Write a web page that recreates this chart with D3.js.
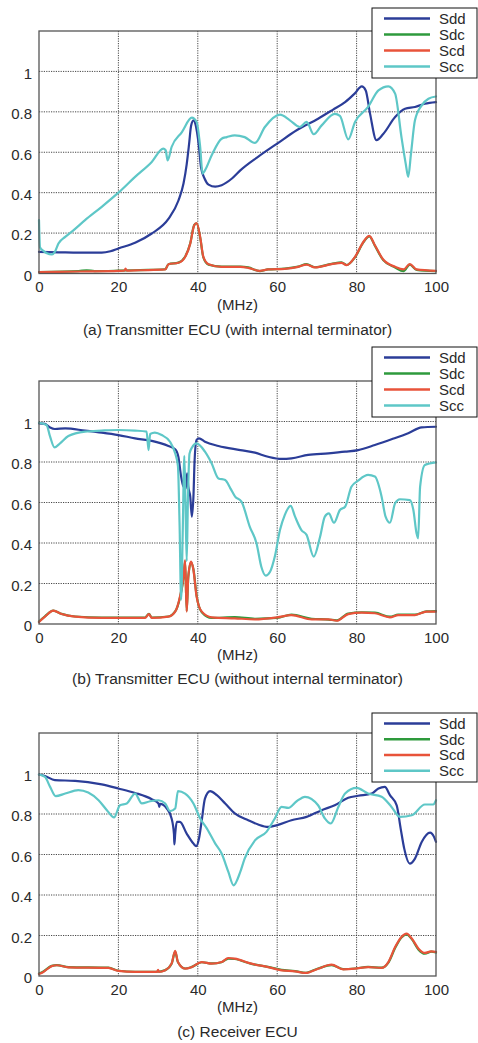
<!DOCTYPE html>
<html><head><meta charset="utf-8">
<script src="https://cdn.jsdelivr.net/npm/d3@7/dist/d3.min.js"></script>
<style>body{margin:0;background:#fff}svg{display:block}</style>
</head><body>
<script>
const seriesNames = ["Sdd","Sdc","Scd","Scc"];
const seriesColors = ["#2b3d98","#2e9a3c","#e8533a","#5ec7c7"];
const xTicks = [0,20,40,60,80,100];
const yTicks = [0,0.2,0.4,0.6,0.8,1];
const yTickLabels = ["0","0.2","0.4","0.6","0.8","1"];
const captions = ["(a) Transmitter ECU (with internal terminator)","(b) Transmitter ECU (without internal terminator)","(c) Receiver ECU"];
const xUnit = "(MHz)";

const a_Sdd = [[0,0.107],[5,0.105],[10,0.103],[15.8,0.103],[18,0.11],[20,0.124],[24.2,0.152],[28.4,0.198],[32.6,0.27],[35.1,0.36],[36.4,0.445],[37.2,0.54],[37.8,0.64],[38.3,0.73],[38.9,0.758],[39.4,0.74],[39.8,0.70],[40.3,0.626],[40.8,0.527],[41.7,0.47],[42.7,0.44],[44.4,0.43],[46,0.437],[48.6,0.47],[50.7,0.51],[55,0.575],[60,0.643],[65,0.71],[70.3,0.766],[74,0.81],[77.1,0.848],[79.5,0.89],[81.3,0.926],[82.3,0.906],[83.4,0.79],[85,0.66],[86.7,0.69],[89.7,0.774],[92.2,0.815],[94.7,0.824],[97.2,0.84],[100,0.848]];
const a_Sdc = [[0,0.007],[10,0.012],[12,0.016],[14,0.012],[20,0.014],[25.5,0.017],[31.8,0.021],[32.6,0.046],[35.1,0.054],[36.8,0.083],[38.1,0.15],[39.1,0.24],[39.7,0.248],[40.6,0.178],[41.4,0.08],[42.7,0.044],[46,0.034],[50.7,0.034],[52.7,0.03],[55.6,0.012],[57.7,0.02],[61.9,0.024],[65.3,0.034],[67.4,0.046],[69.5,0.031],[73.7,0.048],[76.2,0.055],[77.5,0.042],[79.6,0.08],[81.7,0.154],[83.2,0.184],[84.6,0.138],[86.7,0.066],[89.7,0.03],[91.8,0.012],[93.4,0.044],[95.1,0.018],[100,0.012]];
const a_Scd = [[0,0.007],[10,0.01],[20,0.013],[21.5,0.014],[21.8,0.024],[22.1,0.014],[25.5,0.016],[31.8,0.02],[32.6,0.046],[35.1,0.053],[36.8,0.082],[38.1,0.148],[39.1,0.239],[39.7,0.25],[40.6,0.18],[41.4,0.082],[42.7,0.046],[46,0.033],[50.7,0.033],[52.7,0.028],[55.6,0.013],[57.7,0.02],[61.9,0.023],[65.3,0.033],[67.4,0.044],[69.5,0.03],[73.7,0.046],[76.2,0.053],[77.5,0.041],[79.6,0.082],[81.7,0.156],[83.2,0.186],[84.6,0.14],[86.7,0.069],[89.7,0.033],[91.8,0.02],[93.4,0.046],[95.1,0.02],[100,0.013]];
const a_Scc = [[0,0.264],[0.25,0.13],[1.1,0.112],[2,0.10],[3.2,0.094],[4,0.107],[4.9,0.148],[6.6,0.181],[8.2,0.206],[11.6,0.264],[15.8,0.33],[20,0.40],[24.2,0.478],[28.4,0.552],[31.3,0.618],[31.9,0.61],[32.4,0.56],[33.4,0.626],[36,0.70],[38.5,0.771],[39.7,0.75],[40.6,0.626],[41.2,0.494],[41.8,0.51],[43.5,0.585],[46,0.667],[47.3,0.675],[49.3,0.684],[51.8,0.675],[54.4,0.646],[56.9,0.725],[60.7,0.786],[63.2,0.758],[65.7,0.725],[67.4,0.75],[69.2,0.689],[71.2,0.733],[74.5,0.79],[75.8,0.78],[77.9,0.664],[79.6,0.75],[82.9,0.824],[85.5,0.906],[88,0.926],[89.7,0.89],[91.3,0.675],[92.4,0.54],[93,0.478],[93.7,0.593],[94.7,0.758],[96.4,0.832],[98.1,0.865],[100,0.876]];

const b_Sdd = [[0,0.991],[1.5,0.988],[2.8,0.97],[4,0.963],[6.6,0.966],[11.6,0.955],[15.8,0.945],[20,0.933],[24.2,0.917],[28.4,0.904],[32.6,0.879],[34.3,0.863],[35.1,0.826],[35.8,0.728],[36.4,0.678],[37,0.67],[37.3,0.744],[37.6,0.678],[38.1,0.629],[38.5,0.53],[38.9,0.629],[39.2,0.81],[39.7,0.909],[40.3,0.917],[41.8,0.90],[45.2,0.879],[50.7,0.859],[54.4,0.846],[57.7,0.826],[61.1,0.815],[63.6,0.818],[67.8,0.835],[72.9,0.843],[77.1,0.851],[80.4,0.859],[84.6,0.884],[88.8,0.912],[93,0.942],[96.4,0.971],[100,0.974]];
const b_Sdc = [[0,0.012],[1.5,0.038],[3.6,0.066],[5.7,0.05],[9.1,0.037],[15.8,0.032],[26.7,0.032],[27.7,0.05],[28.4,0.032],[32.6,0.037],[34.3,0.062],[35.5,0.13],[36.4,0.23],[36.8,0.31],[37.2,0.065],[37.6,0.23],[38.3,0.305],[38.9,0.27],[39.7,0.14],[41,0.058],[43.5,0.03],[49.3,0.034],[54.4,0.026],[60,0.03],[63.6,0.046],[68.7,0.026],[72.9,0.022],[75,0.018],[77.9,0.052],[81.3,0.058],[84.6,0.056],[88.4,0.036],[90.5,0.046],[94.7,0.046],[97.6,0.062],[100,0.064]];
const b_Scd = [[0,0.01],[1.5,0.036],[3.6,0.066],[5.7,0.049],[9.1,0.036],[15.8,0.03],[26.7,0.03],[27.7,0.049],[28.4,0.03],[32.6,0.036],[34.3,0.061],[35.5,0.135],[36.4,0.234],[36.8,0.316],[37.2,0.061],[37.6,0.234],[38.3,0.308],[38.9,0.267],[39.7,0.135],[41,0.061],[43.5,0.033],[49.3,0.028],[54.4,0.023],[60,0.033],[63.6,0.044],[68.7,0.023],[72.9,0.023],[75,0.016],[77.9,0.049],[81.3,0.056],[84.6,0.053],[88.4,0.033],[90.5,0.044],[94.7,0.044],[97.6,0.061],[100,0.061]];
const b_Scc = [[0,0.994],[1.9,0.983],[2.8,0.925],[3.9,0.872],[5.3,0.892],[7.4,0.928],[11.6,0.95],[15.8,0.955],[20,0.958],[24.2,0.955],[27.1,0.95],[27.6,0.859],[28,0.938],[29.2,0.945],[30.9,0.933],[33,0.9],[34.3,0.843],[35,0.78],[35.4,0.5],[35.8,0.12],[36.2,0.45],[36.6,0.83],[36.9,0.6],[37.2,0.31],[37.5,0.6],[37.9,0.84],[38.5,0.87],[39.7,0.892],[41.8,0.851],[43.5,0.793],[45.2,0.719],[46.9,0.711],[48.2,0.67],[49.4,0.629],[51,0.604],[53.1,0.48],[54.8,0.398],[56,0.283],[57.1,0.239],[58.2,0.258],[59.4,0.333],[60.7,0.464],[61.9,0.538],[63.4,0.583],[64.5,0.53],[66.1,0.464],[67.4,0.44],[69.2,0.333],[70.8,0.431],[72,0.53],[73,0.546],[74.3,0.5],[75.8,0.563],[77.1,0.579],[78.7,0.678],[80.4,0.708],[82.9,0.736],[84.6,0.728],[86.3,0.629],[87.3,0.53],[88.4,0.5],[89.7,0.596],[90.9,0.616],[93.4,0.612],[94.3,0.563],[95.1,0.448],[95.5,0.423],[96,0.678],[97.2,0.785],[100,0.798]];

const c_Sdd = [[0,0.995],[1.5,0.988],[4,0.967],[9.1,0.964],[15.8,0.946],[20,0.926],[24.2,0.904],[28.4,0.873],[30.1,0.852],[30.3,0.835],[30.5,0.85],[32.2,0.827],[33.4,0.778],[34,0.70],[34.1,0.65],[34.3,0.70],[34.7,0.761],[35.5,0.761],[37.2,0.703],[38.9,0.654],[39.6,0.641],[40.3,0.679],[41,0.769],[41.8,0.876],[43.1,0.913],[44.8,0.893],[46.9,0.852],[49.4,0.802],[52.7,0.769],[55.2,0.748],[57.7,0.736],[60,0.745],[63.6,0.769],[67.4,0.786],[71.2,0.819],[74.5,0.843],[77.9,0.88],[80.4,0.89],[83.8,0.901],[85.5,0.926],[87.1,0.934],[88.4,0.893],[90.1,0.843],[91.1,0.728],[92,0.629],[93.4,0.555],[94.7,0.58],[96.4,0.662],[98.5,0.708],[99.5,0.687],[100,0.662]];
const c_Sdc = [[0,0.012],[1.1,0.022],[3.2,0.05],[4.5,0.054],[7.4,0.044],[17.5,0.041],[20,0.026],[24.2,0.021],[29.7,0.021],[31.8,0.029],[33.4,0.06],[34.3,0.12],[35,0.068],[36.8,0.037],[38.5,0.045],[41,0.068],[43.5,0.062],[46,0.068],[47.7,0.086],[49.3,0.084],[53.5,0.06],[57.7,0.045],[61.1,0.03],[64.5,0.024],[67.2,0.016],[70.3,0.037],[73.7,0.054],[76.6,0.034],[79.6,0.037],[82.9,0.045],[86.3,0.041],[88,0.066],[89.7,0.138],[91.3,0.19],[92.6,0.206],[93.9,0.182],[95.6,0.13],[97.2,0.11],[98.8,0.12],[100,0.116]];
const c_Scd = [[0,0.01],[1.1,0.02],[3.2,0.049],[4.5,0.053],[7.4,0.043],[17.5,0.04],[20,0.025],[24.2,0.02],[29.7,0.02],[30,0.03],[30.2,0.02],[31.8,0.028],[33.4,0.061],[34.3,0.124],[35,0.069],[36.8,0.036],[38.5,0.044],[41,0.069],[43.5,0.061],[46,0.069],[47.7,0.089],[49.3,0.086],[53.5,0.061],[57.7,0.044],[61.1,0.028],[64.5,0.023],[67.2,0.015],[70.3,0.036],[73.7,0.056],[76.6,0.033],[79.6,0.036],[82.9,0.044],[86.3,0.04],[88,0.069],[89.7,0.143],[91.3,0.193],[92.6,0.209],[93.9,0.185],[95.6,0.135],[97.2,0.114],[98.8,0.122],[100,0.119]];
const c_Scc = [[0,0.995],[1.5,0.983],[2.8,0.934],[4.2,0.888],[6.6,0.901],[9.9,0.918],[12.4,0.906],[15,0.868],[17.1,0.819],[18.9,0.783],[20.4,0.843],[22.1,0.852],[24.2,0.901],[25.9,0.852],[28,0.863],[30.1,0.868],[31.8,0.852],[33,0.814],[34.3,0.827],[35,0.913],[36.8,0.901],[38.9,0.852],[40.6,0.778],[42.3,0.728],[44.4,0.654],[46,0.605],[47.7,0.514],[49,0.448],[50.7,0.514],[51.8,0.58],[54.4,0.67],[57.3,0.712],[59.4,0.778],[61.1,0.835],[62.8,0.83],[64.9,0.863],[67,0.885],[70.3,0.843],[72,0.778],[73.5,0.753],[75.4,0.835],[77.1,0.901],[80,0.929],[82.9,0.901],[86.3,0.885],[88.8,0.835],[90.9,0.786],[93.9,0.794],[97.2,0.847],[99.3,0.847],[100,0.868]];

const panelData = [[a_Sdd,a_Sdc,a_Scd,a_Scc],[b_Sdd,b_Sdc,b_Scd,b_Scc],[c_Sdd,c_Sdc,c_Scd,c_Scc]];

// layout
const W = 478, H = 1043;
const left = 39, right = 436;
const layouts = [
  {top:31, bottom:273.5, legTop:8, legBottom:78, cap:330},
  {top:381, bottom:624, legTop:347, legBottom:417, cap:679},
  {top:733, bottom:976, legTop:713, legBottom:782, cap:1032}
];
const font = "'Liberation Sans', Arial, sans-serif";
const txt = "#2a2a2a";

const svg = d3.select("body").append("svg").attr("width",W).attr("height",H)
  .style("font-family",font);

layouts.forEach((L,pi)=>{
  const x = d3.scaleLinear().domain([0,100]).range([left,right]);
  const y = d3.scaleLinear().domain([0,1.2]).range([L.bottom,L.top]);
  const g = svg.append("g");

  // grid
  g.append("g").selectAll("line").data(xTicks.filter(t=>t>0&&t<100)).join("line")
    .attr("x1",d=>x(d)).attr("x2",d=>x(d)).attr("y1",L.top).attr("y2",L.bottom)
    .attr("stroke","#333").attr("stroke-width",0.9).attr("stroke-dasharray","1.2,1.2");
  g.append("g").selectAll("line").data(yTicks.filter(t=>t>0)).join("line")
    .attr("y1",d=>y(d)).attr("y2",d=>y(d)).attr("x1",left).attr("x2",right)
    .attr("stroke","#333").attr("stroke-width",0.9).attr("stroke-dasharray","1.2,1.2");

  // lines
  const line = d3.line().x(d=>x(d[0])).y(d=>y(d[1])).curve(d3.curveMonotoneX);
  panelData[pi].forEach((ser,si)=>{
    g.append("path").datum(ser).attr("d",line).attr("fill","none")
      .attr("stroke",seriesColors[si]).attr("stroke-width",2.2)
      .attr("stroke-linejoin","round").attr("stroke-linecap","round");
  });

  // frame
  g.append("rect").attr("x",left).attr("y",L.top).attr("width",right-left).attr("height",L.bottom-L.top)
    .attr("fill","none").attr("stroke","#555").attr("stroke-width",1.3);

  // axes labels
  const xAxis = d3.axisBottom(x).tickValues(xTicks).tickSize(0).tickPadding(8).tickFormat(d3.format("d"));
  const xa = g.append("g").attr("transform",`translate(0,${L.bottom})`).call(xAxis);
  xa.select(".domain").remove();
  xa.selectAll("text").attr("font-size",15).attr("fill",txt).attr("font-family",font);

  const yAxis = d3.axisLeft(y).tickValues(yTicks).tickSize(0).tickPadding(7).tickFormat((d,i)=>yTickLabels[i]);
  const ya = g.append("g").attr("transform",`translate(${left},0)`).call(yAxis);
  ya.select(".domain").remove();
  ya.selectAll("text").attr("font-size",15).attr("fill",txt).attr("font-family",font).attr("dy","0.45em");

  g.append("text").attr("x",(left+right)/2).attr("y",L.bottom+36).attr("text-anchor","middle")
    .attr("font-size",15).attr("fill",txt).text(xUnit);
  g.append("text").attr("x",(left+right)/2).attr("y",L.cap+5).attr("text-anchor","middle")
    .attr("font-size",15.5).attr("fill",txt).text(captions[pi]);

  // legend
  const lg = g.append("g");
  lg.append("rect").attr("x",372).attr("y",L.legTop).attr("width",105).attr("height",L.legBottom-L.legTop)
    .attr("fill","#fff").attr("stroke","#111").attr("stroke-width",1);
  const step = (L.legBottom-L.legTop-6)/4;
  seriesNames.forEach((n,si)=>{
    const yy = L.legTop + 10.5 + si*step;
    lg.append("line").attr("x1",384).attr("x2",430).attr("y1",yy).attr("y2",yy)
      .attr("stroke",seriesColors[si]).attr("stroke-width",2.4);
    lg.append("text").attr("x",439).attr("y",yy).attr("dy","0.35em")
      .attr("font-size",15).attr("fill",txt).text(n);
  });
});
</script>
</body></html>
